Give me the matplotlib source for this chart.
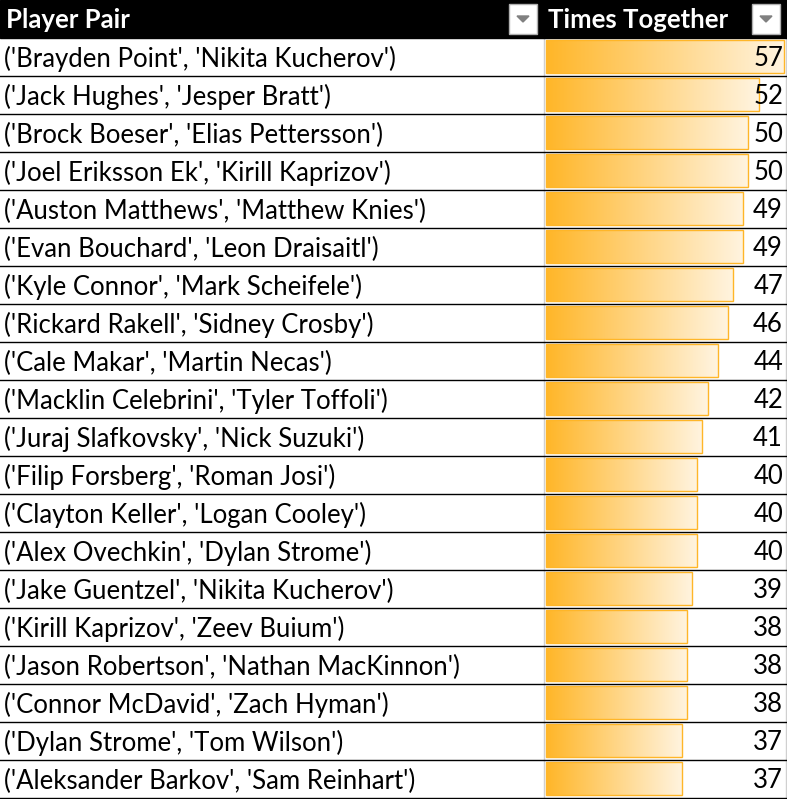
import matplotlib
matplotlib.use("Agg")
import matplotlib.pyplot as plt
import numpy as np
from matplotlib.patches import Rectangle, Polygon
from matplotlib.colors import LinearSegmentedColormap

pairs = [
    ("Brayden Point", "Nikita Kucherov"), ("Jack Hughes", "Jesper Bratt"),
    ("Brock Boeser", "Elias Pettersson"), ("Joel Eriksson Ek", "Kirill Kaprizov"),
    ("Auston Matthews", "Matthew Knies"), ("Evan Bouchard", "Leon Draisaitl"),
    ("Kyle Connor", "Mark Scheifele"), ("Rickard Rakell", "Sidney Crosby"),
    ("Cale Makar", "Martin Necas"), ("Macklin Celebrini", "Tyler Toffoli"),
    ("Juraj Slafkovsky", "Nick Suzuki"), ("Filip Forsberg", "Roman Josi"),
    ("Clayton Keller", "Logan Cooley"), ("Alex Ovechkin", "Dylan Strome"),
    ("Jake Guentzel", "Nikita Kucherov"), ("Kirill Kaprizov", "Zeev Buium"),
    ("Jason Robertson", "Nathan MacKinnon"), ("Connor McDavid", "Zach Hyman"),
    ("Dylan Strome", "Tom Wilson"), ("Aleksander Barkov", "Sam Reinhart"),
]
times = [57, 52, 50, 50, 49, 49, 47, 46, 44, 42, 41, 40, 40, 40, 39, 38, 38, 38, 37, 37]
headers = ["Player Pair", "Times Together"]

W, H = 787, 799
fig = plt.figure(figsize=(W/100, H/100), dpi=100)
ax = fig.add_axes([0, 0, 1, 1])
ax.set_xlim(0, W); ax.set_ylim(H, 0); ax.axis("off")
font = "Lato"
fs = 18.5
hh, rh = 38, 38
col2 = 544

ax.add_patch(Rectangle((0, 0), W, hh, color="black"))
ax.text(6, hh/2 + 1, headers[0], color="white", weight="bold", fontsize=fs, va="center", family=font)
ax.text(col2+4, hh/2 + 1, headers[1], color="white", weight="bold", fontsize=fs, va="center", family=font)
for bx in (509, 752):
    ax.add_patch(Rectangle((bx, 4), 28, 30, facecolor="white", edgecolor="#b0b0b0", lw=1))
    ax.add_patch(Polygon([(bx+8, 16), (bx+20, 16), (bx+14, 22)], color="#808080"))

grad = np.linspace(0, 1, 256).reshape(1, -1)
cmap = LinearSegmentedColormap.from_list("g", ["#FFB628", "#FFF4E0"])
vmax = max(times)
full = W - 3 - (col2 + 2)
for i, (pair, v) in enumerate(zip(pairs, times)):
    y0 = hh + i*rh
    ax.text(4, y0 + rh/2 + 2, f"('{pair[0]}', '{pair[1]}')", fontsize=fs, va="center", family=font)
    length = full * (v - 10.33) / (vmax - 10.33)
    x0 = col2 + 2
    ax.imshow(grad, cmap=cmap, extent=(x0, x0+length, y0+35, y0+2), aspect="auto", zorder=1)
    ax.add_patch(Rectangle((x0, y0+2), length, 33, fill=False, edgecolor="#FFB628", lw=1, zorder=2))
    ax.text(W-4, y0 + rh/2 + 2, str(v), fontsize=fs, va="center", ha="right", family=font, zorder=3)
    ax.plot([0, W], [y0+rh, y0+rh], color="black", lw=1, zorder=4)
ax.plot([col2, col2], [hh, H], color="#d0d0d0", lw=1, zorder=0)
ax.plot([W-1, W-1], [hh, H], color="#d0d0d0", lw=1, zorder=0)
fig.savefig("out.png", dpi=100)
